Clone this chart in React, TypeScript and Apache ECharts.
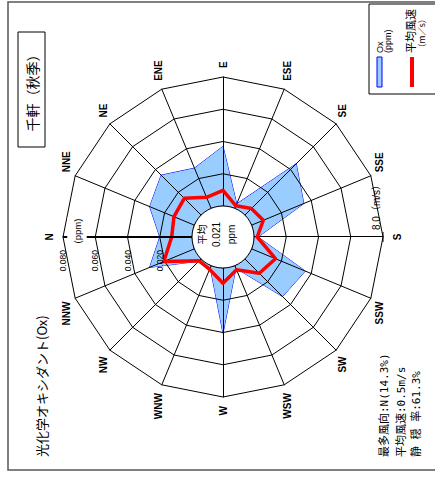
import React, { useEffect, useRef } from "react";
import * as echarts from "echarts";

// ---- data ----
const directions = ["N", "NNE", "NE", "ENE", "E", "ESE", "SE", "SSE", "S", "SSW", "SW", "WSW", "W", "WNW", "NW", "NNW"];
// Ox concentration by wind direction (ppm)
const oxValues = [0.020, 0.030, 0.035, 0.027, 0.037, 0.003, 0.045, 0.035, 0.0025, 0.036, 0.033, 0.0017, 0.0405, 0.0014, 0.002, 0.030];
// mean wind speed by wind direction (m/s)
const windValues = [1.26, 1.37, 1.47, 0.74, 0.97, 0.17, 0.57, 0.78, 0.2, 1.6, 1.26, 0.27, 0.95, 0.25, 0.17, 2.05];
const oxTickLabels = ["0.020", "0.040", "0.060", "0.080"];
const oxMax = 0.08;
const windMax = 8.0;
const windMaxLabel = "8.0（m/s）";
const statLines = ["最多風向:N(14.3%)", "平均風速:0.5m/s", "静 穏 率:61.3%"];
const centerLines = ["平均", "0.021", "ppm"];
const titleText = "千軒（秋季）";
const subjectText = "光化学オキシダント(Ox)";

// ---- layout (chart drawn upright, then turned a quarter turn) ----
const W = 478;
const H = 435;
const CX = 241;
const CY = 223;
const R0 = 31;
const R = 160;

const CJK = "'Noto Sans CJK JP'";
const SANS = "'Liberation Sans', Arial, 'Noto Sans CJK JP'";

export default function App() {
  const ref = useRef<HTMLDivElement>(null);

  useEffect(() => {
    if (!ref.current) return;
    const chart = echarts.init(ref.current, null, { renderer: "svg", width: W, height: H });
    // radar lays indicators counter-clockwise; reverse so that N -> E runs clockwise
    const order = directions.map((_, k) => (16 - k) % 16);
    const names = order.map((i) => directions[i]);
    const oxOrdered = order.map((i) => oxValues[i]);
    const windOrdered = order.map((i) => windValues[i]);

    const ringStep = (R - R0) / oxTickLabels.length;
    const tickTexts = oxTickLabels.map((t, k) => ({
      type: "text",
      x: 228,
      y: CY - (R0 + (k + 1) * ringStep),
      z: 60,
      style: { text: t, fontSize: 8.5, fontFamily: SANS, fill: "#000", align: "right", verticalAlign: "middle" },
    }));

    const statTexts = statLines.map((t, k) => ({
      type: "text",
      x: 21,
      y: [384, 401, 416][k],
      z: 60,
      style: { text: t, fontSize: 11, fontFamily: "'DejaVu Sans Mono', 'Noto Sans CJK JP'", fill: "#000", align: "left", verticalAlign: "middle" },
    }));

    chart.setOption({
      animation: false,
      backgroundColor: "#fff",
      radar: [
        {
          center: [CX, CY],
          radius: [R0, R],
          startAngle: 90,
          splitNumber: 4,
          shape: "polygon",
          nameGap: 9,
          z: 2,
          indicator: names.map((n) => ({ name: n, min: 0, max: oxMax })),
          axisName: { color: "#000", fontWeight: "bold", fontSize: 10, fontFamily: SANS },
          axisLine: { lineStyle: { color: "#000", width: 1 } },
          splitLine: { lineStyle: { color: "#000", width: 1 } },
          splitArea: { show: false },
          axisTick: { show: false },
          axisLabel: { show: false },
        },
        {
          center: [CX, CY],
          radius: [R0, R],
          startAngle: 90,
          splitNumber: 4,
          shape: "polygon",
          indicator: names.map((n) => ({ name: n, min: 0, max: windMax })),
          axisName: { show: false },
          axisLine: { show: false },
          splitLine: { show: false },
          splitArea: { show: false },
          axisTick: { show: false },
          axisLabel: { show: false },
        },
      ],
      series: [
        {
          type: "radar",
          radarIndex: 0,
          z: 1,
          silent: true,
          symbol: "none",
          lineStyle: { color: "#0000ff", width: 1 },
          areaStyle: { color: "#99ccff", opacity: 1 },
          itemStyle: { color: "#0000ff" },
          data: [{ name: "Ox", value: oxOrdered }],
        },
        {
          type: "radar",
          radarIndex: 1,
          z: 3,
          silent: true,
          symbol: "none",
          lineStyle: { color: "#ff0000", width: 3.5 },
          itemStyle: { color: "#ff0000" },
          data: [{ name: "平均風速", value: windOrdered }],
        },
      ],
      graphic: {
        elements: [
          { type: "rect", z: 0, shape: { x: 8, y: 8, width: 468, height: 440 }, style: { fill: "none", stroke: "#555", lineWidth: 1.5 } },
          // title
          { type: "rect", z: 60, shape: { x: 331, y: 18, width: 115, height: 27 }, style: { fill: "#fff", stroke: "#000", lineWidth: 1 } },
          { type: "text", z: 61, x: 388.5, y: 31.5, style: { text: titleText, fontSize: 14, fontFamily: CJK, fill: "#000", align: "center", verticalAlign: "middle" } },
          { type: "text", z: 60, x: 21, y: 41.5, style: { text: subjectText, fontSize: 13, fontFamily: CJK, fill: "#000", align: "left", verticalAlign: "middle" } },
          ...statTexts,
          // thick N axis
          { type: "line", z: 50, shape: { x1: CX, y1: CY - R0, x2: CX, y2: CY - R }, style: { stroke: "#000", lineWidth: 2 } },
          { type: "text", z: 55, x: 247, y: 77, style: { text: "(ppm)", fontSize: 9.5, fontFamily: SANS, fill: "#000", align: "center", verticalAlign: "middle", backgroundColor: "#fff", padding: [5, 1] } },
          ...tickTexts,
          // wind axis end
          { type: "line", z: 50, shape: { x1: CX - 5, y1: CY + R, x2: CX + 5, y2: CY + R }, style: { stroke: "#000", lineWidth: 1 } },
          { type: "text", z: 60, x: 248, y: 376.5, style: { text: windMaxLabel, fontSize: 10, fontFamily: SANS, fill: "#000", align: "left", verticalAlign: "middle" } },
          // centre hole
          { type: "circle", z: 100, shape: { cx: CX, cy: CY, r: R0 }, style: { fill: "#fff", stroke: "#000", lineWidth: 1 } },
          { type: "text", z: 101, x: 243.5, y: 216.5, style: { text: centerLines.join("\n"), fontSize: 10, lineHeight: 14.5, fontFamily: SANS, fill: "#000", align: "center", verticalAlign: "middle" } },
          // legend
          { type: "rect", z: 60, shape: { x: 384, y: 369, width: 90, height: 80 }, style: { fill: "#fff", stroke: "#000", lineWidth: 1 } },
          { type: "rect", z: 61, shape: { x: 391, y: 377, width: 30, height: 5 }, style: { fill: "#99ccff", stroke: "#0000ff", lineWidth: 1 } },
          { type: "text", z: 61, x: 425, y: 379.5, style: { text: "Ox", fontSize: 9, fontFamily: SANS, fill: "#000", align: "left", verticalAlign: "middle" } },
          { type: "text", z: 61, x: 425, y: 387.5, style: { text: "(ppm)", fontSize: 9, fontFamily: SANS, fill: "#000", align: "left", verticalAlign: "middle" } },
          { type: "line", z: 61, shape: { x1: 391, y1: 412, x2: 421, y2: 412 }, style: { stroke: "#ff0000", lineWidth: 4 } },
          { type: "text", z: 61, x: 425, y: 410, style: { text: "平均風速", fontSize: 11, fontFamily: CJK, fill: "#000", align: "left", verticalAlign: "middle" } },
          { type: "text", z: 61, x: 426, y: 420.5, style: { text: "（m／s）", fontSize: 8.5, fontFamily: CJK, fill: "#000", align: "left", verticalAlign: "middle" } },
        ],
      },
    });
    return () => chart.dispose();
  }, []);

  return (
    <div style={{ position: "fixed", left: 0, top: 0, width: 435, height: 478, overflow: "hidden", background: "#fff" }}>
      <div
        ref={ref}
        style={{
          position: "absolute",
          left: 0,
          top: 0,
          width: W,
          height: H,
          transformOrigin: "0 0",
          transform: `translateY(${W}px) rotate(-90deg)`,
        }}
      />
    </div>
  );
}
